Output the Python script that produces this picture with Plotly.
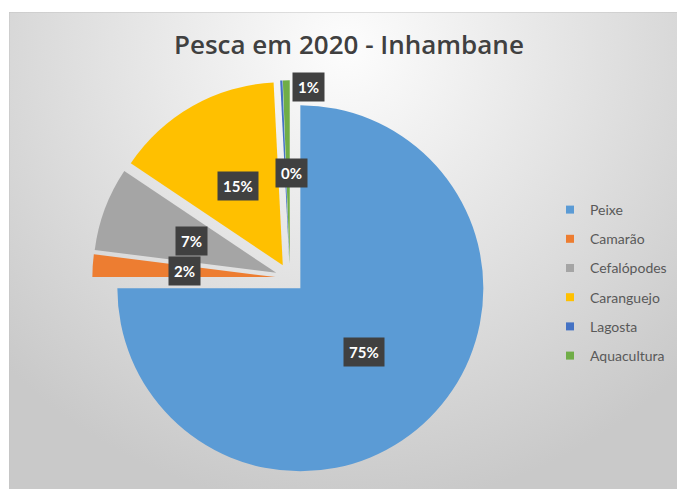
import math
import plotly.graph_objects as go

# ---- data ----
categories = ["Peixe", "Camarão", "Cefalópodes", "Caranguejo", "Lagosta", "Aquacultura"]
shares = [75.0, 2.0, 7.4, 14.8, 0.2, 0.6]          # percent of catch
colors = ["#5B9BD5", "#ED7D31", "#A5A5A5", "#FFC000", "#4472C4", "#70AD47"]
title_text = "Pesca em 2020 - Inhambane"

# ---- layout constants (page pixels) ----
FW, FH = 677, 489
X0, Y0 = 9, 12            # chart area top-left
CX, CY = 290, 278         # pie centre
R = 183                   # pie radius
PULL = 0.08
LABEL_FRAC = 0.575

half = R * (1 + PULL)
dom_x = [(CX - half) / FW, (CX + half) / FW]
dom_y = [1 - (CY + half) / FH, 1 - (CY - half) / FH]

fig = go.Figure()

# background with radial gradient (polygon extends beyond, clipped by plot area)
gcx, gcy = 346, 38
gx0, gx1 = gcx - 470, gcx + 470
gy0, gy1 = 2 * gcy - FH, FH + 20
fig.add_trace(go.Scatter(
    x=[gx0, gx1, gx1, gx0, gx0], y=[gy0, gy0, gy1, gy1, gy0],
    mode="lines", line=dict(width=0), fill="toself",
    fillgradient=dict(type="radial", colorscale=[[0, "#fdfdfd"], [1, "#c9c9c9"]]),
    hoverinfo="skip", showlegend=False,
))

fig.add_trace(go.Pie(
    labels=categories, values=shares, sort=False, direction="clockwise", rotation=0,
    marker=dict(colors=colors, line=dict(width=0)),
    pull=[PULL] * len(shares), textinfo="none", hoverinfo="label+percent",
    domain=dict(x=dom_x, y=dom_y), showlegend=False,
))

# legend entries
for c, col in zip(categories, colors):
    fig.add_trace(go.Scatter(
        x=[None], y=[None], mode="markers", name=c, legendgroup=c,
        marker=dict(symbol="square", size=8, color=col),
    ))

# percentage labels
total = sum(shares)
cum = 0.0
annotations = []
for i, v in enumerate(shares):
    mid = (cum + v / 2) / total * 360.0
    cum += v
    th = math.radians(mid)
    dist = LABEL_FRAC * R
    xshift = 0
    if categories[i] == "Aquacultura":
        dist = 1.045 * R
        xshift = 22
    elif categories[i] == "Lagosta":
        xshift = 6
    lx = CX + dist * math.sin(th)
    ly = CY - dist * math.cos(th)
    annotations.append(dict(
        x=lx, y=ly, xref="x", yref="y", xshift=xshift,
        text="<b>%d%%</b>" % round(v / total * 100),
        showarrow=False, bgcolor="#404040", borderpad=5,
        font=dict(family="Lato", size=15, color="white"),
    ))

annotations.append(dict(
    x=349, y=44, xref="x", yref="y", text=title_text,
    showarrow=False, font=dict(family="Open Sans", size=26, color="#404040", weight=600),
))

fig.update_layout(
    width=FW, height=FH, margin=dict(l=0, r=0, t=0, b=0),
    paper_bgcolor="white", plot_bgcolor="rgba(0,0,0,0)",
    xaxis=dict(range=[X0, FW], domain=[X0 / FW, 1], visible=False, fixedrange=True),
    yaxis=dict(range=[FH, Y0], domain=[0, 1 - Y0 / FH], visible=False, fixedrange=True),
    annotations=annotations,
    legend=dict(x=550 / FW, y=1 - 194 / FH, xanchor="left", yanchor="top",
                font=dict(family="Lato", size=14, color="#595959"),
                tracegroupgap=8, bgcolor="rgba(0,0,0,0)"),
    shapes=[dict(type="rect", xref="x", yref="y", x0=X0, x1=FW + 2, y0=Y0, y1=FH + 2,
                 line=dict(color="#c4c4c4", width=1), layer="above")],
    font=dict(family="Lato"),
)

fig.write_html(
    "out.html",
    config={"displayModeBar": False},
    post_script="document.body.style.margin='0';document.body.style.overflow='hidden';",
)
